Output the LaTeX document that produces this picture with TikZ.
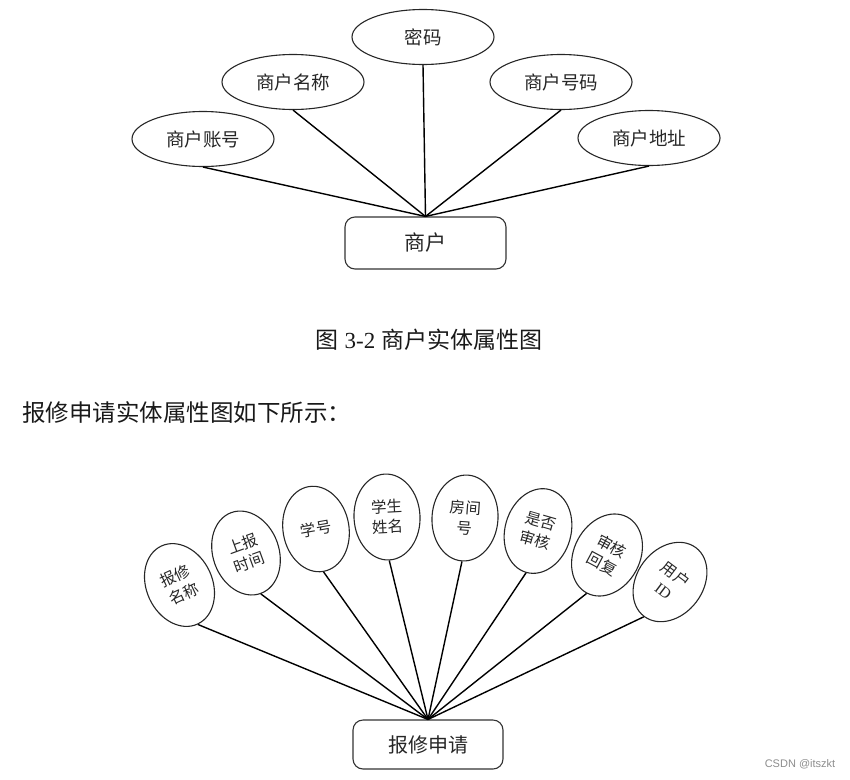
\documentclass[tikz,border=0pt]{standalone}
\usepackage{fontspec}
\setmainfont{Liberation Serif}
\newfontfamily\cjk{Noto Sans CJK SC}
\newfontfamily\wmfont{Liberation Sans}
\usetikzlibrary{shapes.geometric}
\tikzset{
  attr/.style={draw=black!85, line width=1.1pt, ellipse, minimum width=142pt, minimum height=55pt, inner sep=0pt, text=black!85, font=\cjk\fontsize{18.5}{22}\selectfont},
  battr/.style={draw=black!85, line width=1.1pt, ellipse, minimum width=66pt, minimum height=86pt, inner sep=0pt, align=center, text=black!85, font=\cjk\fontsize{15.5}{20}\selectfont},
  ent/.style={draw=black!80, line width=1.1pt, rounded corners=10pt, inner sep=0pt, text=black!85},
  link/.style={line width=1.4pt, black}
}
\begin{document}
\begin{tikzpicture}[x=1pt,y=-1pt]
\useasboundingbox (0,0) rectangle (850,779);
% ---------- top diagram ----------
\node[attr] (mm) at (423,37) {密码};
\node[attr] (mc) at (293,82) {商户名称};
\node[attr] (zh) at (203,139) {商户账号};
\node[attr] (hm) at (561,82) {商户号码};
\node[attr] (dz) at (649,138) {商户地址};
\node[ent, minimum width=161pt, minimum height=52pt, font=\cjk\fontsize{21}{25}\selectfont] (sh) at (425.5,243) {商户};
\foreach \n in {mm,mc,zh,hm,dz} \draw[link] (\n.south) -- (sh.north);
% caption
\node[font=\fontsize{23}{27}\selectfont, text=black!90] (cap) at (429,340) {{\cjk 图} 3-2 {\cjk 商户实体属性图}};
\node[anchor=west, font=\cjk\fontsize{23.5}{27}\selectfont, text=black!90, inner sep=0pt] (para) at (22,413) {报修申请实体属性图如下所示：};
% ---------- bottom diagram ----------
\node[battr, rotate=25] (b1) at (179.5,585) {报修\\名称};
\node[battr, rotate=20] (b2) at (246,553) {上报\\时间};
\node[battr, rotate=10] (b3) at (316,529) {学号};
\node[battr, rotate=3] (b4) at (387,517) {学生\\姓名};
\node[battr, rotate=-4] (b5) at (465,518) {房间\\号};
\node[battr, rotate=-16] (b6) at (538,531) {是否\\审核};
\node[battr, rotate=-28] (b7) at (607,555) {审核\\回复};
\node[battr, rotate=-37] (b8) at (670,582) {用户\\{\rmfamily ID}};
\node[ent, minimum width=150pt, minimum height=49pt, font=\cjk\fontsize{20}{24}\selectfont] (bx) at (428,744.5) {报修申请};
\foreach \n in {b1,b2,b3,b4,b5,b6,b7,b8} \draw[link] (\n.south) -- (bx.north);
% watermark
\node[font=\wmfont\fontsize{11}{13}\selectfont, text=black!45] (wm) at (800,764) {CSDN @itszkt};
\end{tikzpicture}
\end{document}
